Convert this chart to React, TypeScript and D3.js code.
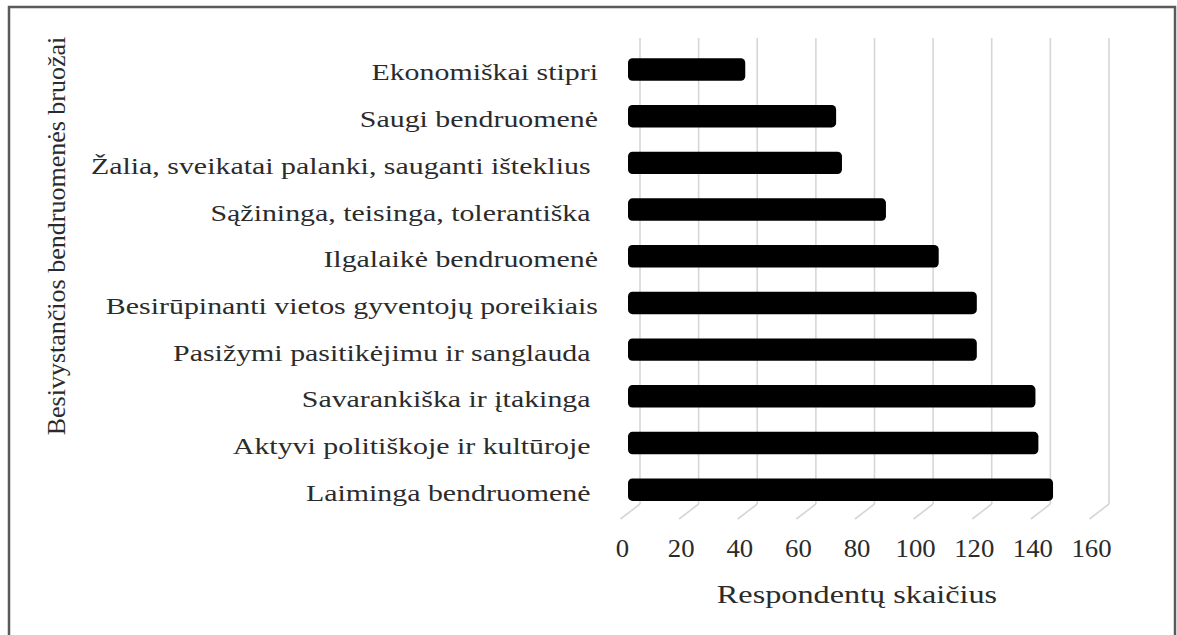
import React from "react";
import * as d3 from "d3";

const categories = [
  "Ekonomiškai stipri",
  "Saugi bendruomenė",
  "Žalia, sveikatai palanki, sauganti išteklius ",
  "Sąžininga, teisinga, tolerantiška ",
  "Ilgalaikė bendruomenė",
  "Besirūpinanti vietos gyventojų poreikiais",
  "Pasižymi pasitikėjimu ir sanglauda ",
  "Savarankiška ir įtakinga ",
  "Aktyvi politiškoje ir kultūroje ",
  "Laiminga bendruomenė ",
];
const values = [40, 71, 73, 88, 106, 119, 119, 139, 140, 145];
const ticks = [0, 20, 40, 60, 80, 100, 120, 140, 160];
const xTitle = "Respondentų skaičius";
const yTitle = "Besivystančios bendruomenės bruožai";

const W = 1177;
const H = 635;
const FONT = "'Liberation Serif', 'Times New Roman', serif";
const TEXT = "#2b2b2b";

export default function App() {
  const x = d3.scaleLinear().domain([0, 160]).range([640, 1109]);
  const y = d3
    .scaleBand<string>()
    .domain(categories)
    .range([46.15, 513.05])
    .paddingInner(0.52)
    .paddingOuter(0.26);

  const wallTop = 38;
  const floorBack = 504;
  const depthDx = -19.5;
  const depthDy = 15;
  const barDx = -12;

  return (
    <svg
      width={W}
      height={H}
      style={{ position: "absolute", left: 0, top: 0, background: "#fff" }}
    >
      <rect x={0} y={0} width={W} height={H} fill="#fff" />
      <rect
        x={9}
        y={7}
        width={1166}
        height={640}
        fill="none"
        stroke="#5a5a5a"
        strokeWidth={2.5}
      />
      {/* back wall gridlines and floor lines */}
      {ticks.map((t) => (
        <g key={`g${t}`} stroke="#d6d6d6" strokeWidth={1.6} fill="none">
          <line x1={x(t)} x2={x(t)} y1={wallTop} y2={floorBack} />
          <line
            x1={x(t)}
            y1={floorBack}
            x2={x(t) + depthDx}
            y2={floorBack + depthDy}
          />
        </g>
      ))}
      {/* bars */}
      {categories.map((c, i) => (
        <rect
          key={`b${i}`}
          x={x(0) + barDx}
          y={y(c)!}
          width={x(values[i]) - x(0)}
          height={y.bandwidth()}
          rx={4.5}
          ry={4.5}
          fill="#000"
        />
      ))}
      {/* category labels */}
      {categories.map((c, i) => (
        <text
          key={`l${i}`}
          transform={`translate(598,${y(c)! + y.bandwidth() / 2 + 11}) scale(1.3,1)`}
          textAnchor="end"
          fontFamily={FONT}
          fontSize={23}
          fill={TEXT}
          style={{ whiteSpace: "pre" }}
        >
          {c}
        </text>
      ))}
      {/* tick labels */}
      {ticks.map((t) => (
        <text
          key={`t${t}`}
          transform={`translate(${x(t) + depthDx + 2},557) scale(1.07,1)`}
          textAnchor="middle"
          fontFamily={FONT}
          fontSize={25}
          fill={TEXT}
        >
          {t}
        </text>
      ))}
      {/* x title */}
      <text
        transform={`translate(857,603) scale(1.29,1)`}
        textAnchor="middle"
        fontFamily={FONT}
        fontSize={25}
        fill={TEXT}
      >
        {xTitle}
      </text>
      {/* y title */}
      <text
        transform={`translate(65,236) rotate(-90)`}
        textAnchor="middle"
        fontFamily={FONT}
        fontSize={26}
        fill={TEXT}
      >
        {yTitle}
      </text>
    </svg>
  );
}
